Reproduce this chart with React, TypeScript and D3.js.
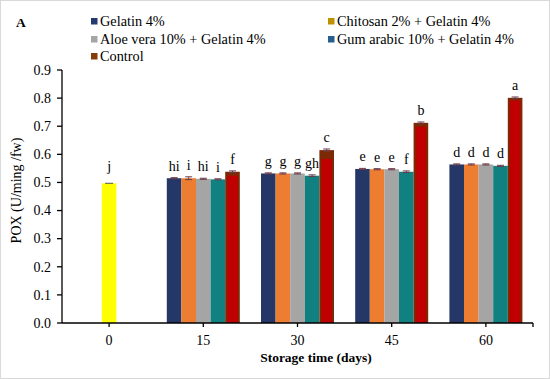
import React from "react";
import * as d3 from "d3";

const categories = ["0", "15", "30", "45", "60"];
const seriesNames = [
  "Gelatin 4%",
  "Chitosan 2% + Gelatin 4%",
  "Aloe vera 10% + Gelatin 4%",
  "Gum arabic 10% + Gelatin 4%",
  "Control",
];
const day0Value = 0.497;
const day0Label = "j";
// values for days 15, 30, 45, 60
const gelatin = [0.515, 0.532, 0.548, 0.564];
const chitosan = [0.515, 0.532, 0.547, 0.564];
const aloe = [0.513, 0.532, 0.547, 0.564];
const gum = [0.511, 0.524, 0.538, 0.559];
const control = [0.538, 0.615, 0.712, 0.801];
const controlInner = [0.524, 0.584, 0.698, 0.792];
const errGelatin = [0.002, 0.002, 0.002, 0.002];
const errChitosan = [0.005, 0.002, 0.002, 0.002];
const errAloe = [0.002, 0.002, 0.002, 0.002];
const errGum = [0.002, 0.003, 0.003, 0.002];
const errControl = [0.003, 0.004, 0.003, 0.003];
const labelsGelatin = ["hi", "g", "e", "d"];
const labelsChitosan = ["i", "g", "e", "d"];
const labelsAloe = ["hi", "g", "e", "d"];
const labelsGum = ["i", "gh", "f", "d"];
const labelsControl = ["f", "c", "b", "a"];
const yTicks = [0, 0.1, 0.2, 0.3, 0.4, 0.5, 0.6, 0.7, 0.8, 0.9];

const barColors = ["#243766", "#ED7D31", "#A5A5A5", "#108080", "#C00000"];
const legendColors = ["#223A6E", "#BF9000", "#A5A5A5", "#255E91", "#843C0C"];
const controlEdge = "#7B2A05";

export default function App() {
  const W = 550, H = 379;
  const x0 = 62, x1 = 533, yTop = 70, yBot = 323;
  const font = "'Liberation Serif', 'Times New Roman', serif";
  const y = d3.scaleLinear().domain([0, 0.9]).range([yBot, yTop]);
  const xb = d3.scaleBand().domain(categories).range([x0, x1]).padding(0);
  const step = xb.bandwidth();
  const groupW = 73;
  const inner = d3
    .scaleBand()
    .domain(seriesNames)
    .range([(step - groupW) / 2, (step + groupW) / 2])
    .padding(0);
  const bw = inner.bandwidth();
  const vals = [gelatin, chitosan, aloe, gum, control];
  const errs = [errGelatin, errChitosan, errAloe, errGum, errControl];
  const labs = [labelsGelatin, labelsChitosan, labelsAloe, labelsGum, labelsControl];

  const bars: React.ReactNode[] = [];
  {
    const cx = (xb("0") as number) + step / 2;
    const top = y(day0Value);
    bars.push(
      <g key="d0">
        <rect x={cx - bw / 2} y={top} width={bw} height={yBot - top} fill="#FFFF00" />
        <line x1={cx - 4} x2={cx + 4} y1={top} y2={top} stroke="#555" strokeWidth={1} />
        <text x={cx} y={top - 12} textAnchor="middle" fontSize={14} fontFamily={font}>{day0Label}</text>
      </g>
    );
  }
  categories.slice(1).forEach((c, ci) => {
    const gx = xb(c) as number;
    seriesNames.forEach((s, si) => {
      const v = vals[si][ci];
      const bx = gx + (inner(s) as number);
      const top = y(v);
      const e = errs[si][ci];
      const cx = bx + bw / 2;
      const key = `${c}-${si}`;
      if (si === 4) {
        const innerTop = y(controlInner[ci]);
        bars.push(
          <g key={key}>
            <rect x={bx} y={top} width={bw} height={yBot - top} fill={controlEdge} />
            <rect x={bx + 2} y={innerTop} width={bw - 4} height={yBot - innerTop} fill={barColors[4]} />
          </g>
        );
      } else {
        bars.push(<rect key={key} x={bx} y={top} width={bw} height={yBot - top} fill={barColors[si]} />);
      }
      bars.push(
        <g key={key + "e"}>
          <line x1={cx} x2={cx} y1={y(v + e)} y2={y(v - e)} stroke="#6b3a4a" strokeWidth={1} />
          <line x1={cx - 3.5} x2={cx + 3.5} y1={y(v + e)} y2={y(v + e)} stroke="#6b3a4a" strokeWidth={1} />
          <line x1={cx - 3.5} x2={cx + 3.5} y1={y(v - e)} y2={y(v - e)} stroke="#6b3a4a" strokeWidth={1} />
          <text x={cx} y={y(v + e) - 7} textAnchor="middle" fontSize={14} fontFamily={font}>
            {labs[si][ci]}
          </text>
        </g>
      );
    });
  });

  const legendPos = [
    [91, 21],
    [328, 21],
    [91, 39],
    [328, 39],
    [91, 56],
  ];

  return (
    <svg
      width={W}
      height={H}
      style={{ position: "absolute", left: 0, top: 0, background: "#fff" }}
      fontFamily={font}
    >
      <rect x={0.5} y={0.5} width={W - 1} height={H - 1} fill="#fff" stroke="#d9d9d9" />
      <text x={16} y={27} fontSize={13.5} fontWeight="bold">A</text>
      {seriesNames.map((s, i) => (
        <g key={s}>
          <rect x={legendPos[i][0]} y={legendPos[i][1] - 3} width={6.5} height={6.5} fill={legendColors[i]} />
          <text x={legendPos[i][0] + 9} y={legendPos[i][1] + 5} fontSize={14.3}>{s}</text>
        </g>
      ))}
      {bars}
      <line x1={x0} x2={x0} y1={yTop} y2={yBot} stroke="#000" strokeWidth={1.3} />
      {yTicks.map((t) => (
        <g key={t}>
          <line x1={x0 - 5} x2={x0} y1={y(t)} y2={y(t)} stroke="#000" strokeWidth={1.3} />
          <text x={51} y={y(t) + 4.8} textAnchor="end" fontSize={14}>{t.toFixed(1)}</text>
        </g>
      ))}
      <line x1={x0} x2={x1} y1={yBot} y2={yBot} stroke="#000" strokeWidth={1.3} />
      {categories.map((c) => {
        const cx = (xb(c) as number) + step / 2;
        return (
          <g key={c}>
            <line x1={cx} x2={cx} y1={yBot} y2={yBot + 4} stroke="#000" strokeWidth={1.3} />
            <text x={cx} y={yBot + 22} textAnchor="middle" fontSize={14}>{c}</text>
          </g>
        );
      })}
      <line x1={x1} x2={x1} y1={yBot} y2={yBot + 4} stroke="#000" strokeWidth={1.3} />
      <text x={316} y={362} textAnchor="middle" fontSize={13.5} fontWeight="bold">Storage time (days)</text>
      <text
        transform={`translate(21,${(yTop + yBot) / 2 - 6}) rotate(-90)`}
        textAnchor="middle"
        fontSize={14}
      >
        POX (U/ming /fw)
      </text>
    </svg>
  );
}
